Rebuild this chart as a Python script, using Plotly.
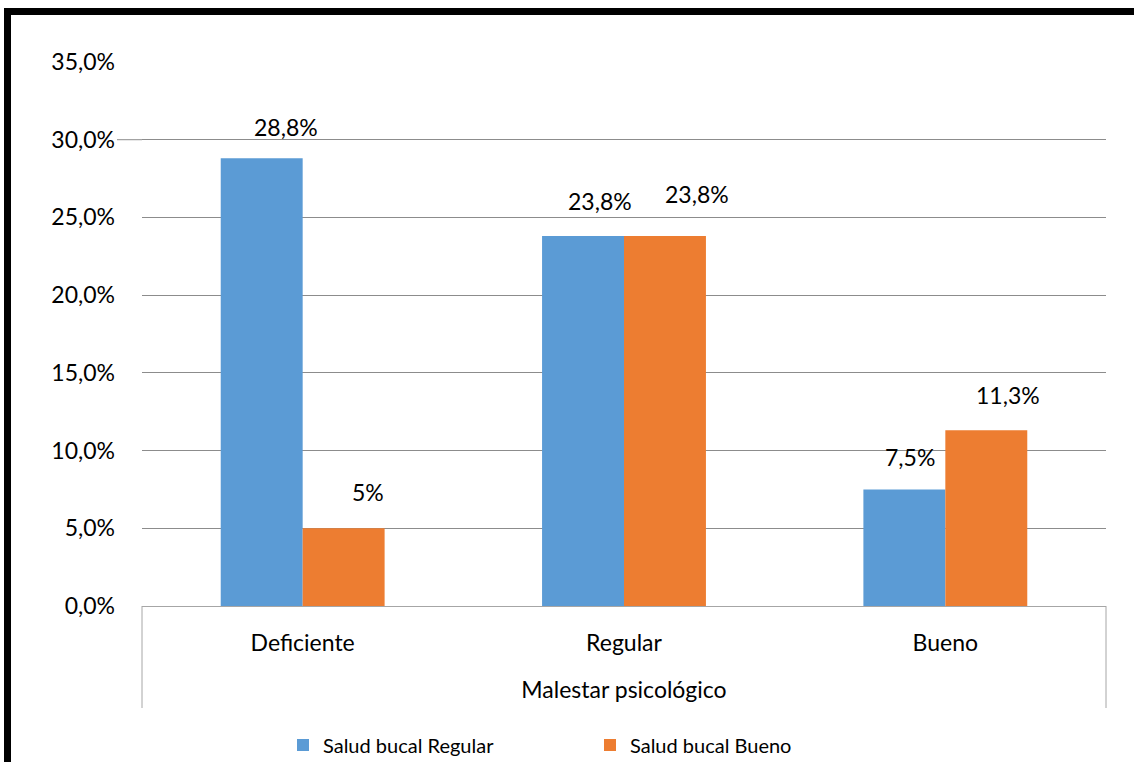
import plotly.graph_objects as go

# Categories and series values (percent)
categories = ["Deficiente", "Regular", "Bueno"]
salud_regular = [28.8, 23.8, 7.5]
salud_bueno = [5.0, 23.8, 11.3]
series_names = ["Salud bucal Regular", "Salud bucal Bueno"]
y_ticks = [0, 5, 10, 15, 20, 25, 30, 35]
y_tick_text = [f"{v:.1f}".replace(".", ",") + "%" for v in y_ticks]
x_title = "Malestar psicológico"

BLUE = "#5B9BD5"
ORANGE = "#ED7D31"
FONT = "Lato"

W, H = 1134, 762
ML, MR, MT, MB = 142, 28, 62, 156


def pct_label(v):
    return f"{v:g}".replace(".", ",") + "%"


fig = go.Figure()
fig.add_trace(go.Bar(x=categories, y=salud_regular, name=series_names[0],
                     marker=dict(color=BLUE, line=dict(width=0))))
fig.add_trace(go.Bar(x=categories, y=salud_bueno, name=series_names[1],
                     marker=dict(color=ORANGE, line=dict(width=0))))

# Data labels sit a little above and to the right of each bar
label_nudge = {
    0: [(24, 31), (17, 35), (6, 32)],
    1: [(24, 36), (32, 42), (22, 35)],
}
bar_half_offset = 41
for s, vals in enumerate([salud_regular, salud_bueno]):
    side = -1 if s == 0 else 1
    for i, (c, v) in enumerate(zip(categories, vals)):
        dx, dy = label_nudge[s][i]
        fig.add_annotation(x=c, y=v, text=pct_label(v), showarrow=False,
                           xshift=side * bar_half_offset + dx, yshift=dy,
                           yanchor="middle", xanchor="center",
                           font=dict(family=FONT, size=23, color="#000000"))

pw = W - ML - MR
ph = H - MT - MB


def px_x(x):
    return (x - ML) / pw


def px_y(y):
    return (H - MB - y) / ph


shapes = [
    # outer frame lines below the category axis
    dict(type="line", xref="paper", yref="paper", x0=0, x1=0, y0=0, y1=px_y(708),
         line=dict(color="#a6a6a6", width=1)),
    dict(type="line", xref="paper", yref="paper", x0=1, x1=1, y0=0, y1=px_y(708),
         line=dict(color="#a6a6a6", width=1)),
    # short gridline extension at 30%
    dict(type="line", xref="paper", yref="y", x0=px_x(117), x1=0, y0=30, y1=30,
         line=dict(color="#8c8c8c", width=1)),
    # heavy black border
    dict(type="rect", xref="paper", yref="paper",
         x0=px_x(7.5), x1=px_x(1145), y0=px_y(11.5), y1=px_y(775),
         line=dict(color="#000000", width=7), fillcolor="rgba(0,0,0,0)"),
]

fig.update_layout(
    width=W, height=H,
    margin=dict(l=ML, r=MR, t=MT, b=MB, pad=0, autoexpand=False),
    paper_bgcolor="white", plot_bgcolor="white",
    barmode="group", bargap=0.49, bargroupgap=0,
    font=dict(family=FONT, size=23, color="#000000"),
    showlegend=True,
    legend=dict(orientation="h", x=px_x(283), xanchor="left",
                y=px_y(745), yanchor="middle",
                font=dict(family=FONT, size=20, color="#000000"),
                entrywidth=262, bgcolor="rgba(0,0,0,0)", borderwidth=0),
    shapes=shapes,
    xaxis=dict(showline=True, linecolor="#a6a6a6", linewidth=1, ticks="",
               showgrid=False, ticklabelstandoff=16, automargin=False,
               tickfont=dict(family=FONT, size=23, color="#000000"),
               title=dict(text=x_title, standoff=27,
                          font=dict(family=FONT, size=23, color="#000000"))),
    yaxis=dict(range=[0, 35], tickvals=y_ticks, ticktext=y_tick_text,
               showgrid=True, gridcolor="#8c8c8c", gridwidth=1,
               zeroline=False, showline=False, ticks="", automargin=False,
               ticklabelstandoff=26,
               tickfont=dict(family=FONT, size=23, color="#000000")),
)

fig.write_html("out.html")
